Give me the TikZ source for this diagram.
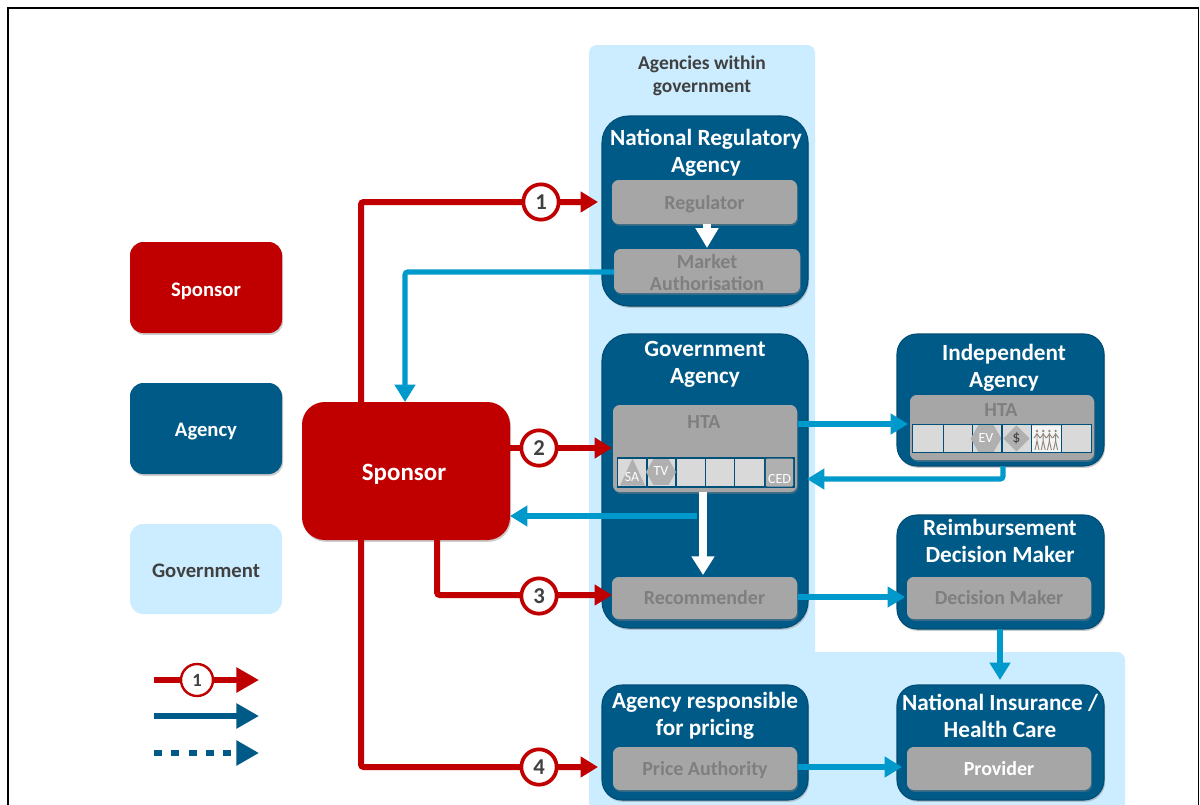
\documentclass[tikz,border=0pt]{standalone}
\usepackage{fontspec}
\setmainfont{Carlito}
\usetikzlibrary{arrows.meta,shapes.geometric,shadows}
\definecolor{agency}{HTML}{005A87}
\definecolor{gov}{HTML}{CCECFF}
\definecolor{spred}{HTML}{C00000}
\definecolor{flow}{HTML}{0099CC}
\definecolor{boxgray}{HTML}{A6A6A6}
\definecolor{txtgray}{HTML}{7F7F7F}
\definecolor{cellgray}{HTML}{D9D9D9}
\definecolor{icongray}{HTML}{B0B0B0}
\definecolor{dark}{HTML}{404040}
\definecolor{peoplecol}{HTML}{8F857A}
\newcommand\bx[7]{\node[#6,minimum width={0.75pt*(#4-#2)},minimum height={0.75pt*(#5-#3)}] (#1) at ({(#2+#4)/2},{(#3+#5)/2}) {#7};}
\newcommand\cell[5]{\node[cellbox,minimum width={0.75pt*(#4-#2)},minimum height={0.75pt*(#5)}] (#1) at ({(#2+#4)/2},#3) {};}
\newcommand\lowered[2]{\raisebox{0pt}[\dimexpr\height+#1pt+#1pt\relax][\depth]{#2}}
\tikzset{
 softshadow/.style={drop shadow={opacity=.4,shadow xshift=.8pt,shadow yshift=-1.4pt}},
 agencybox/.style={draw=agency!85!black,line width=.8pt,fill=agency,rounded corners=20pt,inner sep=0pt,softshadow},
 innerbox/.style={fill=boxgray,rounded corners=5pt,inner sep=0pt,text=txtgray,align=center,softshadow,font=\fontsize{15}{16.5}\selectfont\bfseries},
 legendbox/.style={rounded corners=10pt,inner sep=0pt,font=\fontsize{15.5}{16}\selectfont\bfseries},
 title/.style={text=white,align=center,inner sep=0pt,font=\fontsize{17.4}{20.3}\selectfont\bfseries},
 cellbox/.style={draw=agency!90!black,line width=.9pt,fill=cellgray,inner sep=0pt},
 num/.style={circle,draw=spred,line width=2.8pt,fill=white,minimum size=26.5pt,inner sep=0pt,text=dark,font=\fontsize{17}{17}\selectfont\bfseries},
 lnum/.style={circle,draw=spred,line width=1.8pt,fill=white,minimum size=24pt,inner sep=0pt,text=dark,font=\fontsize{14}{14}\selectfont\bfseries},
 redarrow/.style={draw=spred,line width=4.5pt,-{Triangle[length=13pt,width=15pt]}},
 bluearrow/.style={draw=flow,line width=3.8pt,-{Triangle[length=13pt,width=15pt]}},
 whitearrow/.style={draw=white,line width=5.5pt,-{Triangle[length=14pt,width=16.5pt]}},
 legendarrow/.style={draw=agency,line width=4.5pt,-{Triangle[length=17pt,width=18pt]}},
 icontext/.style={text=white,font=\fontsize{10.5}{11}\selectfont,inner sep=0pt},
 iconshape/.style={fill=icongray,inner sep=0pt},
 figure/.style={draw=peoplecol,line width=.7pt},
}
\begin{document}
\begin{tikzpicture}[x=0.75pt,y=-0.75pt]
\useasboundingbox (0,0) rectangle (1200,804);
\clip (0,0) rectangle (1200,804);
\path[fill=white] (0,0) rectangle (1200,804);
\draw[black,line width=1.2pt] (8,8) rectangle (1198.5,840);
% government band
\path[fill=gov,rounded corners=6pt] (589,45) rectangle (815,840);
\path[fill=gov,rounded corners=6pt] (700,652) rectangle (1125,840);
\node[text=dark,align=center,inner sep=0pt,font=\fontsize{14.6}{17.2}\selectfont\bfseries] (govtitle) at (702,76) {Agencies within\\government};
% legend
\bx{lsponsor}{130}{242}{282}{333}{legendbox,softshadow,fill=spred,text=white}{\lowered{3}{Sponsor}}
\bx{lagency}{130}{383}{282}{474}{legendbox,softshadow,fill=agency,text=white}{\lowered{2.2}{Agency}}
\bx{lgov}{130}{524}{282}{614}{legendbox,fill=gov,text=dark}{\lowered{1.5}{Government}}
% sponsor
\bx{sponsor}{302}{402}{510}{540}{legendbox,softshadow,rounded corners=17pt,fill=spred,text=white,font=\fontsize{18.7}{20}\selectfont\bfseries}{\hspace*{-3pt}\lowered{2.2}{Sponsor}}
% agencies
\bx{nra}{602}{116}{808}{306}{agencybox}{}
\bx{govag}{602}{334}{808}{628}{agencybox}{}
\bx{indep}{897}{334}{1104}{466}{agencybox,rounded corners=15pt}{}
\bx{reimb}{897}{515}{1104}{629}{agencybox,rounded corners=15pt}{}
\bx{pricing}{602}{685}{808}{800}{agencybox,rounded corners=15pt}{}
\bx{insur}{897}{685}{1104}{800}{agencybox,rounded corners=15pt}{}
\node[title] (t1) at (706,153) {National Regulatory\\Agency};
\node[title] (t2) at (705,364.5) {Government\\Agency};
\node[title] (t3) at (1004,368) {Independent\\Agency};
\node[title] (t4) at (1000,540.5) {Reimbursement\\Decision Maker};
\node[title] (t5) at (705,716) {Agency responsible\\for pricing};
\node[title] (t6) at (1000,716) {National Insurance /\\Health Care};
% inner boxes
\bx{regulator}{612}{180}{797}{224}{innerbox}{\lowered{1.5}{Regulator}}
\bx{market}{614}{249}{800}{293}{innerbox}{\lowered{1.5}{Market}\\Authorisation}
\bx{hta}{613}{405}{797}{492}{innerbox}{}
\node[text=txtgray,inner sep=0pt,font=\fontsize{15}{16}\selectfont\bfseries] (htat) at (704,422.5) {HTA};
\bx{recommender}{612}{577}{797}{619}{innerbox}{Recommender}
\bx{hta2}{910}{395}{1094}{460}{innerbox}{}
\node[text=txtgray,inner sep=0pt,font=\fontsize{15}{16}\selectfont\bfseries] (htat2) at (1001,410.5) {HTA};
\bx{dm}{907}{577}{1091}{619}{innerbox}{Decision Maker}
\bx{price}{613}{747}{797}{790}{innerbox}{\lowered{1.5}{Price Authority}}
\bx{provider}{907}{747}{1091}{790}{innerbox,text=white}{Provider}
% HTA cells
\cell{c1}{617.3}{472.5}{647}{29}
\cell{c2}{647}{472.5}{676}{29}
\cell{c3}{676}{472.5}{705.3}{29}
\cell{c4}{705.3}{472.5}{734.7}{29}
\cell{c5}{734.7}{472.5}{765}{29}
\cell{c6}{765}{472.5}{794}{29}
\fill[icongray] (632.5,458.5) -- (645,485.5) -- (620,485.5) -- cycle;
\node[icontext] (sa) at (632,477) {SA};
\node[iconshape,regular polygon,regular polygon sides=6,minimum size=22.5pt] (tvhex) at (661,472) {};
\node[icontext] (tv) at (661,471.5) {TV};
\node[iconshape,rectangle,minimum width=20.5pt,minimum height=21pt,rounded corners=1pt] (cedbox) at (779.5,472.5) {};
\node[icontext] (ced) at (779.5,478.5) {CED};
% independent cells
\cell{d1}{912.7}{438.7}{943.3}{28}
\cell{d2}{943.3}{438.7}{972.3}{28}
\cell{d3}{972.3}{438.7}{1002}{28}
\cell{d4}{1002}{438.7}{1031.3}{28}
\cell{d5}{1031.3}{438.7}{1061.7}{28}
\cell{d6}{1061.7}{438.7}{1091.3}{28}
\node[iconshape,regular polygon,regular polygon sides=6,minimum size=23pt] (evhex) at (986,438.5) {};
\node[icontext] (ev) at (986,438.5) {EV};
\node[iconshape,diamond,minimum size=20pt] (dollar) at (1016.5,438.5) {};
\node[icontext,text=dark,font=\fontsize{12}{12}\selectfont] (dl) at (1016.5,438.5) {\$};
\fill[white!70!cellgray] (1032,425.5) rectangle (1061,452);
\foreach \i in {0,1,2,3}{
 \fill[peoplecol] ({1037+\i*6.2},{431}) circle (1pt);
 \draw[figure] ({1037+\i*6.2},{433}) -- ({1037+\i*6.2},{441}) -- ({1035+\i*6.2},{450});
 \draw[figure] ({1037+\i*6.2},{441}) -- ({1039+\i*6.2},{450});
 \draw[figure] ({1034+\i*6.2},{438}) -- ({1037+\i*6.2},{434}) -- ({1040+\i*6.2},{438});
}
% coordinates for connector ends
\coordinate (s1) at (361,402);
\coordinate (s4) at (361,540);
\coordinate (s3) at (437,540);
\coordinate (e1) at (598,202);
\coordinate (e2) at (612,448);
\coordinate (e3) at (612,595);
\coordinate (e4) at (598,767);
\coordinate (m1) at (614,272);
\coordinate (m2) at (405,402);
\coordinate (h1) at (798,424);
\coordinate (h2) at (908,424);
\coordinate (i1) at (1003,466);
\coordinate (i2) at (807,479);
\coordinate (g1) at (697,516);
\coordinate (g2) at (510,516);
\coordinate (s2) at (510,448);
\coordinate (r1) at (798,597);
\coordinate (r2) at (905,597);
\coordinate (d1b) at (1000,629);
\coordinate (d2b) at (1000,680);
\coordinate (p1) at (798,767);
\coordinate (p2) at (902,767);
\coordinate (w1) at (703,492);
\coordinate (w2) at (703,575);
\coordinate (w3) at (707,224);
\coordinate (w4) at (707,248);
% connectors
\draw[redarrow,rounded corners=2pt] (s1) |- (e1);
\draw[redarrow] (s2) -- (e2);
\draw[redarrow,rounded corners=2pt] (s3) |- (e3);
\draw[redarrow,rounded corners=2pt] (s4) |- (e4);
\draw[bluearrow,rounded corners=2pt] (m1) -| (m2);
\draw[bluearrow] (h1) -- (h2);
\draw[bluearrow,rounded corners=2pt] (i1) |- (i2);
\draw[bluearrow] (g1) -- (g2);
\draw[bluearrow] (r1) -- (r2);
\draw[bluearrow] (d1b) -- (d2b);
\draw[bluearrow] (p1) -- (p2);
\draw[whitearrow] (w1) -- (w2);
\draw[whitearrow,-{Triangle[length=15pt,width=16.5pt]}] (w3) -- (w4);
\node[num] (n1) at (541,202) {1};
\node[num] (n2) at (539,448) {2};
\node[num] (n3) at (539,596) {3};
\node[num] (n4) at (539,767) {4};
% legend arrows
\coordinate (la1) at (154,680); \coordinate (la2) at (259,680);
\coordinate (lb1) at (154,716); \coordinate (lb2) at (259,716);
\coordinate (lc1) at (154,753); \coordinate (lc2) at (259,753);
\draw[legendarrow,draw=spred] (la1) -- (la2);
\draw[legendarrow] (lb1) -- (lb2);
\draw[legendarrow,dash pattern=on 6pt off 7pt] (lc1) -- (lc2);
\node[lnum] (ln) at (197,680) {1};
\end{tikzpicture}
\end{document}
